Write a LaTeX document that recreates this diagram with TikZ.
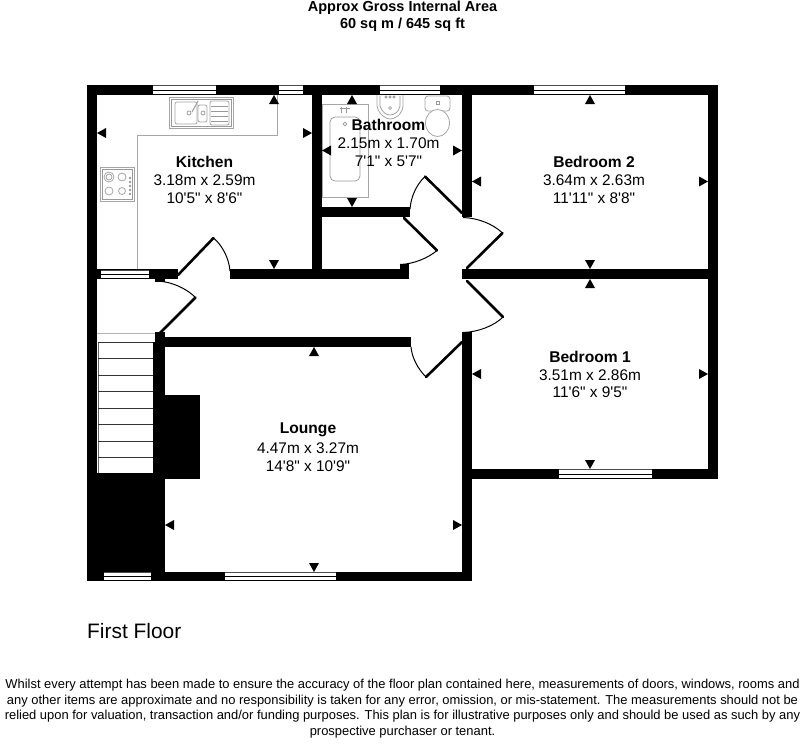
\documentclass[tikz,border=0pt]{standalone}
\usepackage{fontspec}
\setmainfont{Liberation Sans}
\newfontfamily\plainsans{Liberation Sans}
\tikzset{
  wallfill/.style={fill=black,draw=none},
  leaf/.style={draw=black,line width=2.6pt,line cap=round},
  swing/.style={draw=black,line width=1pt},
  fixture/.style={draw=black!35,line width=0.8pt},
  fixturein/.style={draw=black!40,line width=0.7pt},
  roomname/.style={font=\fontsize{15.6}{18}\selectfont\bfseries,inner sep=0pt},
  roomsize/.style={font=\plainsans\fontsize{15.4}{18}\selectfont,inner sep=0pt},
  headtext/.style={font=\fontsize{14.5}{16}\selectfont\bfseries,inner sep=0pt},
  foottext/.style={font=\fontsize{12.93}{15}\selectfont,inner sep=0pt},
  floortext/.style={font=\fontsize{20.9}{24}\selectfont,inner sep=0pt,anchor=west}
}
\newcommand{\wallrect}[4]{\fill[wallfill] (#1,#2) rectangle (#3,#4);}
\newcommand{\winh}[4]{% horizontal window
  \fill[white] (#1,#2) rectangle (#3,#4);
  \draw[black!70,line width=0.8pt] (#1,#2+0.4) -- (#3,#2+0.4);
  \draw[black,line width=1pt] (#1,{(#2+#4)/2}) -- (#3,{(#2+#4)/2});
  \draw[black,line width=1pt] (#1,#4-0.4) -- (#3,#4-0.4);
  \draw[black,line width=0.6pt] (#1,#2) -- (#1,#4) (#3,#2) -- (#3,#4);}
\newcommand{\triup}[2]{\fill (#1-5,#2+9) -- (#1+5,#2+9) -- (#1,#2) -- cycle;}
\newcommand{\tridown}[2]{\fill (#1-5,#2-9) -- (#1+5,#2-9) -- (#1,#2) -- cycle;}
\newcommand{\trileft}[2]{\fill (#1+9,#2-5) -- (#1+9,#2+5) -- (#1,#2) -- cycle;}
\newcommand{\triright}[2]{\fill (#1-9,#2-5) -- (#1-9,#2+5) -- (#1,#2) -- cycle;}
\begin{document}
\begin{tikzpicture}[x=1pt,y=-1pt]
\useasboundingbox (0,0) rectangle (800,744);
\fill[white] (0,0) rectangle (800,744);
% fixtures (under walls)
\draw[fixture] (137.5,269) -- (137.5,135) -- (277.5,135) -- (277.5,95);
% sink
\draw[fixture] (169,97) rectangle (233,128);
\draw[fixturein] (171,99) rectangle (231,126);
\draw[fixture,rounded corners=2pt] (175,102) rectangle (197,124);
\draw[fixture,rounded corners=2pt] (198,105) rectangle (207,122);
\draw[fixture,rounded corners=2pt] (210,101) rectangle (229,125);
\foreach \yy in {106,111,116,121}{\draw[fixturein] (211,\yy) -- (228,\yy);}
\draw[fixturein] (189,113) circle (2);
\draw[fixturein] (203,113) circle (2);
\draw[fixture,line width=1.2pt] (192,112) -- (198,101);
% hob
\draw[fixture] (100,167) rectangle (134,201);
\draw[fixturein] (102,169) rectangle (132,199);
\draw[fixture] (109,177) circle (5);
\draw[fixturein] (109,177) circle (3);
\draw[fixture] (122,177) circle (4);
\draw[fixture] (109,191) circle (4);
\draw[fixture] (122,191) circle (3.5);
\foreach \yy in {178,182,186,190,194}{\draw[fixturein] (130,\yy) circle (0.8);}
% bath
\draw[fixture] (322,104) rectangle (368,197);
\draw[fixturein,rounded corners=5pt] (330,117) rectangle (360,181);
\draw[fixturein,rounded corners=2pt] (341,107) -- (341,113) (346,107) -- (346,113) (340,108) -- (350,108);
\draw[fixturein] (345,124) circle (1.8);
% basin
\draw[fixture] (377,95) -- (377,106) .. controls (379,115) and (386,119) .. (390,119) .. controls (395,119) and (402,115) .. (403,106) -- (403,95);
\draw[fixturein] (380,96) -- (380,106) .. controls (382,112) and (386,115) .. (390,115) .. controls (394,115) and (399,112) .. (400,106) -- (400,96);
\draw[fixturein] (390,108) circle (1.5) (386,97) circle (1.2) (390,97) circle (1.2) (394,97) circle (1.2);
% toilet
\draw[fixture,rounded corners=3pt] (425,96) rectangle (450,111);
\draw[fixturein] (436,101) rectangle (439,104);
\fill[white] (437.5,123) ellipse (12 and 13.5);
\draw[fixture] (437.5,123) ellipse (12 and 13.5);
% stairs
\fill[white] (98,342) rectangle (153,473);
\draw[black!60,line width=0.8pt] (98,342) -- (98,473);
\foreach \yy in {342,358.5,375,391.5,408,424.5,441,457}{\draw[black!80,line width=1pt] (98,\yy) -- (153,\yy);}
\draw[black!30,line width=0.6pt] (97,333) -- (155,333);
% walls
\wallrect{87}{85}{718}{95}
\wallrect{87}{85}{97}{581}
\wallrect{708}{85}{718}{479}
\wallrect{312}{85}{322}{279}
\wallrect{462}{85}{472}{217}
\wallrect{462}{269}{472}{279}
\wallrect{462}{332}{472}{581}
\wallrect{322}{207}{410}{217}
\wallrect{462}{269}{718}{279}
\wallrect{462}{469}{718}{479}
\wallrect{87}{572}{472}{581}
\wallrect{97}{269}{178}{279}
\wallrect{155}{279}{165}{282}
\wallrect{230}{269}{409}{279}
\wallrect{400}{264}{409}{269}
\wallrect{155}{332}{165}{347}
\wallrect{165}{337}{411}{347}
\wallrect{153}{342}{165}{473}
\wallrect{165}{395}{200}{479}
\wallrect{87}{473}{165}{581}
% windows
\winh{152}{85}{216}{95}
\winh{278}{85}{303}{95}
\winh{379}{85}{440}{95}
\winh{533}{85}{625}{95}
\winh{558}{469}{652}{479}
\winh{224}{572}{336}{581}
\winh{103}{572}{151}{581}
\winh{100}{269.5}{149}{279}
% doors
\draw[leaf] (178,275) -- (213.5,238);
\draw[swing] (213.5,238) .. controls (222,245) and (229,258) .. (230,271);
\draw[leaf] (160,333) -- (195.5,297.5);
\draw[swing] (195.5,297.5) .. controls (187,289) and (173,282) .. (158,281);
\draw[leaf] (462,213) -- (425,176.5);
\draw[swing] (425,176.5) .. controls (417,184) and (411,196) .. (410,209);
\draw[leaf] (404,218) -- (437,250.5);
\draw[swing] (437,250.5) .. controls (428,258) and (414,264) .. (400,264.5);
\draw[swing] (463,217.5) .. controls (478,218) and (493,224) .. (502.5,233);
\draw[leaf] (502.5,233) -- (467,268);
\draw[leaf] (467,281) -- (503,317);
\draw[swing] (503,317) .. controls (494,326) and (478,332) .. (463,332.5);
\draw[swing] (411,347) .. controls (412,358) and (418,369) .. (426,377);
\draw[leaf] (426,377) -- (462,342);
% measurement markers
\trileft{97}{133} \triright{312}{133} \triup{274}{95} \tridown{274}{269}
\triup{352}{95} \tridown{352}{207} \trileft{322}{150.5} \triright{462}{150.5}
\trileft{472}{181.5} \triright{708}{181.5} \triup{590}{95} \tridown{590}{269}
\trileft{472}{374} \triright{708}{374} \triup{590}{279} \tridown{590}{469}
\trileft{165}{525} \triright{462}{525} \triup{314}{347} \tridown{314}{572}
% text
\node[headtext] (head1) at (402.5,8) {Approx Gross Internal Area};
\node[headtext] (head2) at (402.5,24.5) {60 sq m / 645 sq ft};
\node[roomname] (kitA) at (204.5,161.5) {Kitchen};
\node[roomsize] (kitB) at (204.5,180) {3.18m x 2.59m};
\node[roomsize] (kitC) at (204.5,198) {10'5" x 8'6"};
\node[roomname] (batA) at (388.5,125) {Bathroom};
\node[roomsize] (batB) at (388.5,143.5) {2.15m x 1.70m};
\node[roomsize] (batC) at (388.5,161) {7'1" x 5'7"};
\node[roomname] (bedtwoA) at (594,161.5) {Bedroom 2};
\node[roomsize] (bedtwoB) at (594,180) {3.64m x 2.63m};
\node[roomsize] (bedtwoC) at (594,198) {11'11" x 8'8"};
\node[roomname] (bedoneA) at (590,356.5) {Bedroom 1};
\node[roomsize] (bedoneB) at (590,375) {3.51m x 2.86m};
\node[roomsize] (bedoneC) at (590,392.5) {11'6" x 9'5"};
\node[roomname] (lounA) at (308,430) {Lounge};
\node[roomsize] (lounB) at (308,448) {4.47m x 3.27m};
\node[roomsize] (lounC) at (308,466) {14'8" x 10'9"};
\node[floortext] (floorname) at (87,631.5) {First Floor};
\node[foottext] (foot1) at (402.5,685.5) {Whilst every attempt has been made to ensure the accuracy of the floor plan contained here, measurements of doors, windows, rooms and};
\node[foottext] (foot2) at (402.5,701) {any other items are approximate and no responsibility is taken for any error, omission, or mis-statement. The measurements should not be};
\node[foottext] (foot3) at (402.5,716.5) {relied upon for valuation, transaction and/or funding purposes. This plan is for illustrative purposes only and should be used as such by any};
\node[foottext] (foot4) at (402.5,732) {prospective purchaser or tenant.};
\end{tikzpicture}
\end{document}
